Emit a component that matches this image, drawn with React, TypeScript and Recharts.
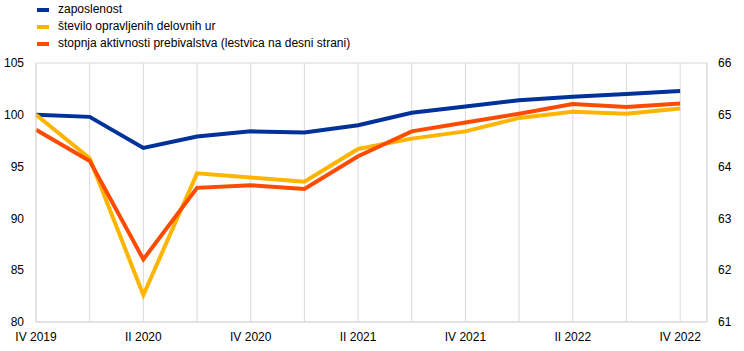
import { LineChart, Line, XAxis, YAxis, CartesianGrid } from 'recharts'

const quarters = [
  'IV 2019', 'I 2020', 'II 2020', 'III 2020', 'IV 2020', 'I 2021', 'II 2021',
  'III 2021', 'IV 2021', 'I 2022', 'II 2022', 'III 2022', 'IV 2022',
]
const employment = [100, 99.8, 96.8, 97.9, 98.4, 98.3, 99.0, 100.2, 100.8, 101.4, 101.75, 102.0, 102.3]
const hoursWorked = [100, 95.8, 82.6, 94.35, 93.95, 93.55, 96.7, 97.7, 98.4, 99.7, 100.3, 100.1, 100.6]
const activityRate = [64.71, 64.11, 62.21, 63.59, 63.64, 63.57, 64.2, 64.68, 64.85, 65.02, 65.21, 65.15, 65.22]

const leftTicks = [80, 85, 90, 95, 100, 105]
const rightTicks = [61, 62, 63, 64, 65, 66]

const series = [
  { key: 'employment', name: 'zaposlenost', color: '#003299', axis: 'left' },
  { key: 'hours', name: 'število opravljenih delovnih ur', color: '#ffb400', axis: 'left' },
  { key: 'activity', name: 'stopnja aktivnosti prebivalstva (lestvica na desni strani)', color: '#ff4b00', axis: 'right' },
]

const data = quarters.map((q, i) => ({
  idx: i,
  quarter: q,
  employment: employment[i],
  hours: hoursWorked[i],
  activity: activityRate[i],
}))

const font = 'Liberation Sans, Arial, sans-serif'
const grid = '#d9d9d9'

export default function App() {
  return (
    <div style={{ position: 'absolute', left: 0, top: 0, width: 744, height: 351, fontFamily: font, background: '#fff' }}>
      <div style={{ position: 'absolute', left: 37, top: 1, fontSize: 12, lineHeight: '17px', color: '#000' }}>
        {series.map((s) => (
          <div key={s.key} style={{ display: 'flex', alignItems: 'center' }}>
            <span style={{ display: 'inline-block', width: 12, height: 4, background: s.color, marginRight: 9 }} />
            <span>{s.name}</span>
          </div>
        ))}
      </div>
      <LineChart width={744} height={351} data={data} margin={{ top: 63, right: 0, bottom: 0, left: 0 }}>
        <CartesianGrid stroke={grid} strokeWidth={1} />
        <XAxis
          dataKey="idx"
          type="number"
          domain={[0, 12.5]}
          ticks={quarters.map((_, i) => i)}
          tickFormatter={(v: number) => (v % 2 === 0 ? quarters[v] : '')}
          interval={0}
          height={29}
          tickLine={false}
          axisLine={{ stroke: grid }}
          tick={{ fill: '#000', fontSize: 12, fontFamily: font }}
          tickMargin={4}
        />
        <YAxis
          yAxisId="left"
          domain={[80, 105]}
          ticks={leftTicks}
          width={36}
          tickLine={false}
          axisLine={{ stroke: grid }}
          tick={{ fill: '#000', fontSize: 12, fontFamily: font }}
          tickMargin={6}
        />
        <YAxis
          yAxisId="right"
          orientation="right"
          domain={[61, 66]}
          ticks={rightTicks}
          width={37}
          tickLine={false}
          axisLine={{ stroke: grid }}
          tick={{ fill: '#000', fontSize: 12, fontFamily: font }}
          tickMargin={5}
        />
        {series.map((s) => (
          <Line
            key={s.key}
            yAxisId={s.axis}
            dataKey={s.key}
            name={s.name}
            stroke={s.color}
            strokeWidth={4}
            dot={false}
            type="linear"
            isAnimationActive={false}
          />
        ))}
      </LineChart>
    </div>
  )
}
